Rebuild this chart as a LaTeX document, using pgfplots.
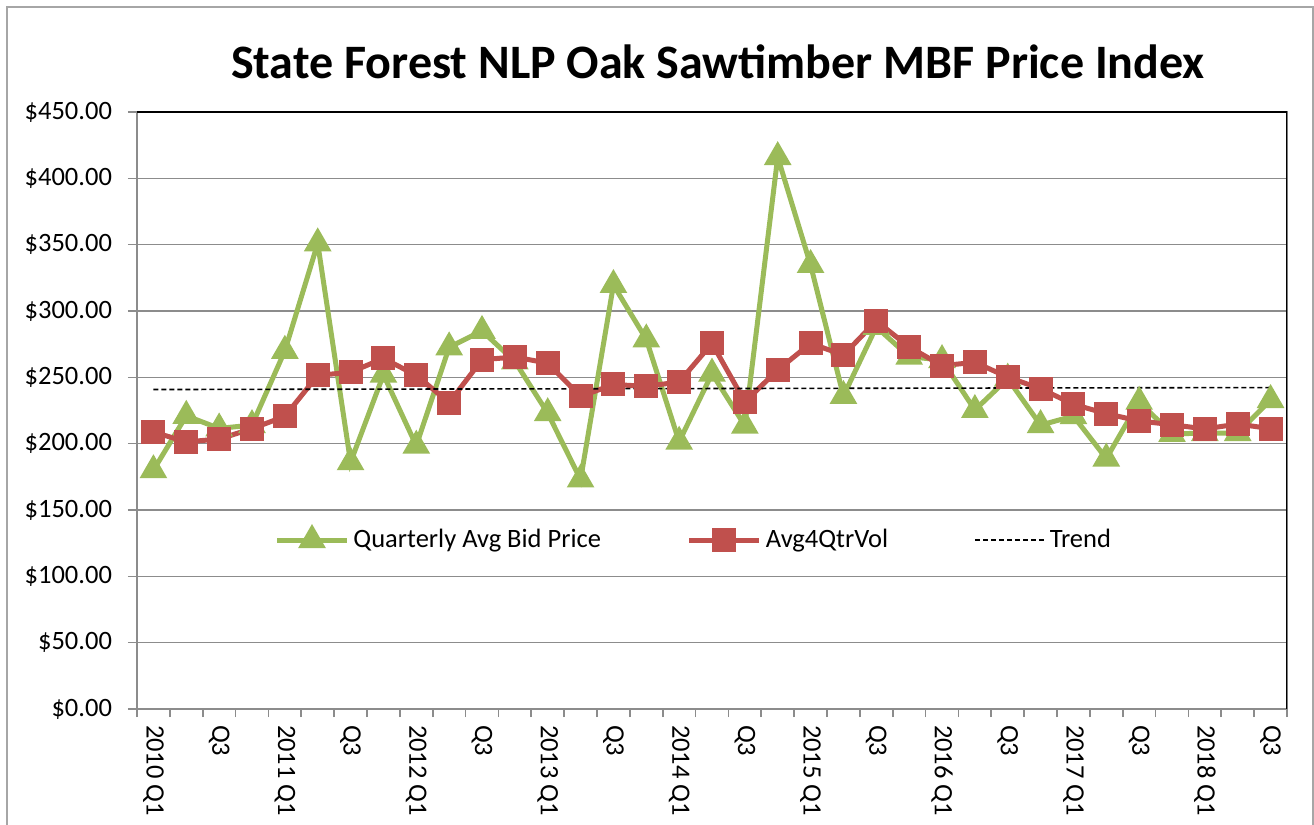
\documentclass[border=0pt]{standalone}
\usepackage{fontspec}
\setmainfont{Carlito}
\usepackage{pgfplots}
\pgfplotsset{compat=1.18}
\definecolor{bidgreen}{HTML}{9BBB59}
\definecolor{volred}{HTML}{C0504D}
\definecolor{gridgray}{HTML}{8C8C8C}

\begin{document}
\begin{tikzpicture}
\path[use as bounding box] (0,0) rectangle (657bp,412.5bp);
\clip (0,0) rectangle (657bp,412.5bp);
% chart area frame, cut off at the bottom like the screenshot
\draw[gray!70, line width=1bp] (3.5bp,-30bp) rectangle (656.5bp,409bp);
\node[font=\bfseries\fontsize{24.1}{29}\selectfont] at (359bp,381.5bp)
  {State Forest NLP Oak Sawtimber MBF Price Index};
\begin{axis}[
    at={(68.5bp,58bp)}, anchor=south west,
    scale only axis,
    width=575bp, height=298.5bp,
    xmin=-0.5, xmax=34.5,
    ymin=0, ymax=450,
    xtick={0,2,...,34},
    xticklabels={2010 Q1,Q3,2011 Q1,Q3,2012 Q1,Q3,2013 Q1,Q3,2014 Q1,Q3,
                 2015 Q1,Q3,2016 Q1,Q3,2017 Q1,Q3,2018 Q1,Q3},
    minor xtick={-0.5,0.5,...,34.5},
    major x tick style={draw=none},
    ytick={0,50,...,450},
    tick align=outside,
    tick pos=left,
    major tick length=4.5bp,
    minor tick length=4bp,
    tick style={gridgray, line width=0.8bp},
    ymajorgrids,
    grid style={gridgray, line width=0.8bp},
    axis line style={gridgray, line width=0.8bp},
    yticklabel={\$\pgfmathprintnumber[fixed,fixed zerofill,precision=2,assume math mode=true]{\tick}},
    yticklabel style={font=\fontsize{13.3}{16}\selectfont, xshift=-4.5bp},
    xticklabel style={font=\fontsize{13.3}{16}\selectfont, rotate=-90, anchor=west},
    legend columns=3,
    legend style={at={(rel axis cs:0.485,0.283)}, anchor=center,
        draw=none, fill=none, font=\fontsize{13.3}{16}\selectfont,
        /tikz/every even column/.append style={column sep=41bp}},
    legend image code/.code={\draw[mark repeat=2,mark phase=2]
        plot coordinates {(0bp,0bp) (17.5bp,0bp) (35bp,0bp)};},
]
% quarterly average bid price, 2010 Q1 .. 2018 Q3
\addplot[bidgreen, line width=2.5bp, mark=triangle*, mark size=5.5bp,
         mark options={solid}] coordinates {
    (0,180) (1,221) (2,211.5) (3,214) (4,270) (5,351) (6,186) (7,252)
    (8,198.5) (9,272.6) (10,285) (11,262) (12,223) (13,173) (14,319.6)
    (15,278.6) (16,201.5) (17,252.8) (18,213.6) (19,416) (20,334.7)
    (21,236) (22,288) (23,265.6) (24,263) (25,225.4) (26,249) (27,214)
    (28,220.8) (29,188.8) (30,231.6) (31,207.3) (32,208) (33,208) (34,232.9)
};
\addlegendentry{Quarterly Avg Bid Price}
% four quarter average
\addplot[volred, line width=2.5bp, mark=square*, mark size=4.75bp,
         mark options={solid}] coordinates {
    (0,208.8) (1,201.3) (2,203.5) (3,211.3) (4,220.6) (5,251.5) (6,253.8)
    (7,264.3) (8,251.5) (9,230.9) (10,263.3) (11,265.3) (12,260.7)
    (13,235.6) (14,244.6) (15,243.2) (16,246.5) (17,275.6) (18,231.6)
    (19,255.5) (20,275.6) (21,266.8) (22,292.5) (23,272.9) (24,258.8)
    (25,261.3) (26,250.2) (27,241.4) (28,229.7) (29,222.6) (30,217.1)
    (31,214.3) (32,211.1) (33,214.8) (34,211.3)
};
\addlegendentry{Avg4QtrVol}
% linear trend
\addplot[black, line width=0.8bp, dash pattern=on 2.5bp off 1.5bp]
    coordinates {(0,240.8) (34,242.3)};
\addlegendentry{Trend}
\draw[black, line width=0.9bp] (rel axis cs:0,1) -- (rel axis cs:1,1) -- (rel axis cs:1,0);
\end{axis}
\end{tikzpicture}
\end{document}
